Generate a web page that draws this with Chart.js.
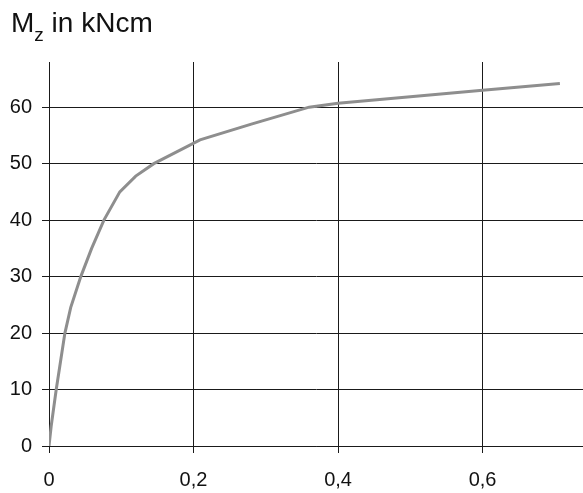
<!DOCTYPE html>
<html>
<head>
<meta charset="utf-8">
<script src="https://cdn.jsdelivr.net/npm/chart.js@4"></script>
<style>
  body { margin: 0; background: #fff; }
  .wrap { position: relative; width: 583px; height: 493px; }
  .title {
    position: absolute; left: 11px; top: 9px;
    font-family: "Liberation Sans", Arial, sans-serif;
    font-size: 28px; line-height: 28px; color: #111;
  }
  .title sub { font-size: 19px; vertical-align: -9px; line-height: 0; }
  canvas { position: absolute; left: 0; top: 0; }
</style>
</head>
<body>
<div class="wrap">
  <canvas id="mzChart" width="583" height="493"></canvas>
  <div class="title">M<sub>z</sub> in kNcm</div>
</div>
<script>
// curve
const rotation = [0, 0.003, 0.010, 0.022, 0.030, 0.044, 0.059, 0.076, 0.098, 0.12, 0.145, 0.209, 0.28, 0.36, 0.40, 0.60, 0.707];
const moment = [0, 3.5, 10, 20, 24.5, 30, 35, 40, 45, 47.8, 50, 54.2, 57, 60, 60.7, 63, 64.2];

const xTicks = [0, 0.2, 0.4, 0.6];
const yTicks = [0, 10, 20, 30, 40, 50, 60];

const points = rotation.map((x, i) => ({ x: x, y: moment[i] }));

const ctx = document.getElementById('mzChart').getContext('2d');
const mzChart = new Chart(ctx, {
  type: 'scatter',
  data: {
    datasets: [{
      data: points,
      showLine: true,
      borderColor: '#8e8e8e',
      borderWidth: 3,
      pointRadius: 0,
      tension: 0
    }]
  },
  options: {
    responsive: false,
    animation: false,
    layout: { padding: { top: 62, left: 0, right: 0, bottom: 0 } },
    plugins: { legend: { display: false }, tooltip: { enabled: false } },
    scales: {
      x: {
        type: 'linear',
        min: 0,
        max: 0.739,
        afterBuildTicks: scale => { scale.ticks = xTicks.map(v => ({ value: v })); },
        afterFit: scale => { scale.height = 47; },
        grid: { color: '#1a1a1a', lineWidth: 1, tickLength: 7 },
        border: { color: '#1a1a1a', width: 1 },
        ticks: {
          color: '#111',
          padding: 15,
          maxRotation: 0,
          font: { family: '"Liberation Sans", Arial, sans-serif', size: 20 },
          callback: v => String(Math.round(v * 10) / 10).replace('.', ',')
        }
      },
      y: {
        min: 0,
        max: 68,
        afterBuildTicks: scale => { scale.ticks = yTicks.map(v => ({ value: v })); },
        afterFit: scale => { scale.width = 49; },
        grid: { color: '#1a1a1a', lineWidth: 1, tickLength: 7 },
        border: { color: '#1a1a1a', width: 1 },
        ticks: {
          color: '#111',
          padding: 10,
          font: { family: '"Liberation Sans", Arial, sans-serif', size: 20 }
        }
      }
    }
  }
});
</script>
</body>
</html>
